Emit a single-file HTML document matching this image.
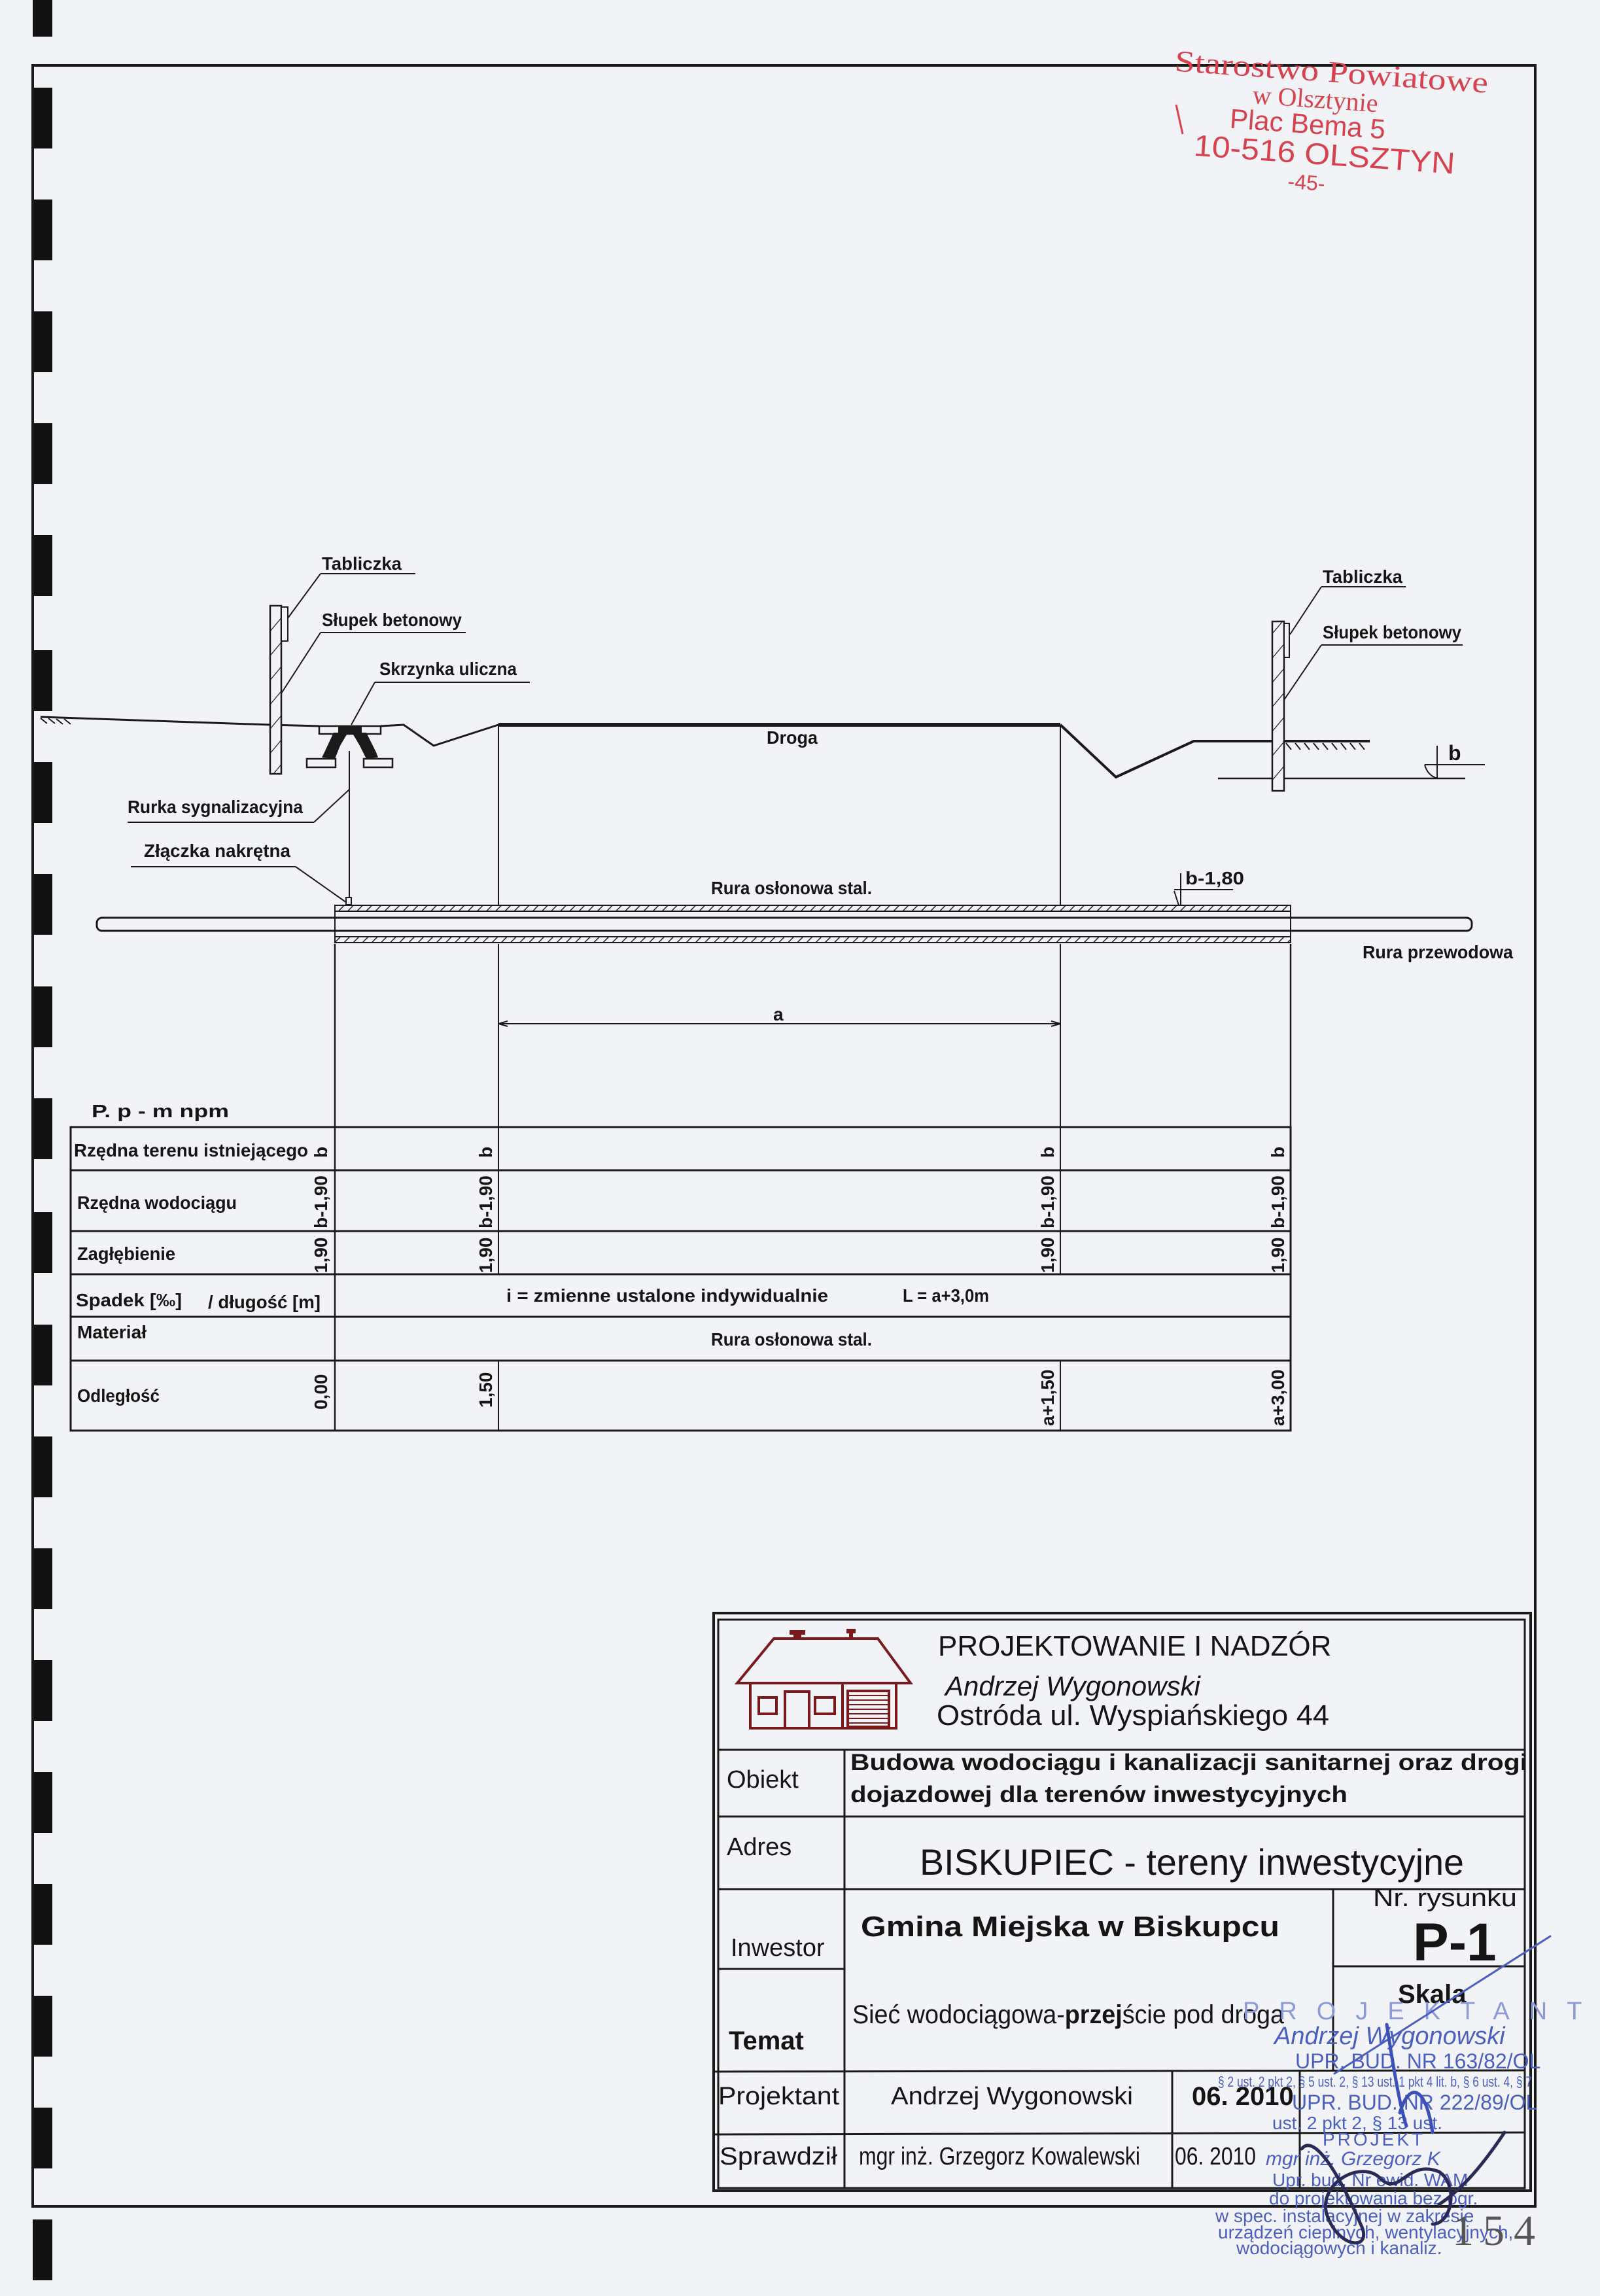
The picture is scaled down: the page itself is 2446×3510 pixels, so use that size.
<!DOCTYPE html>
<html><head><meta charset="utf-8">
<style>
html,body{margin:0;padding:0;background:#f2f3f7;}
svg{display:block;}
.n{font-family:"Liberation Sans Narrow","Liberation Sans",sans-serif;font-weight:bold;fill:#151515;}
.a{font-family:"Liberation Sans",sans-serif;fill:#151515;}
</style></head>
<body>
<svg width="2446" height="3510" viewBox="0 0 2446 3510" xmlns="http://www.w3.org/2000/svg">
<defs>
<pattern id="h" width="10" height="10" patternUnits="userSpaceOnUse" patternTransform="rotate(45)">
<rect width="10" height="10" fill="#f2f3f7"/><line x1="0" y1="0" x2="0" y2="10" stroke="#222" stroke-width="3"/>
</pattern>
<pattern id="hp" width="24" height="24" patternUnits="userSpaceOnUse" patternTransform="rotate(40)">
<rect width="24" height="24" fill="#f2f3f7"/><line x1="0" y1="0" x2="0" y2="24" stroke="#222" stroke-width="2.5"/>
</pattern>
</defs>
<rect width="2446" height="3510" fill="#f2f3f7"/>

<g fill="#111">
<rect x="50" y="0" width="30" height="56"/>
<rect x="50" y="134" width="30" height="93"/>
<rect x="50" y="305" width="30" height="93"/>
<rect x="50" y="476" width="30" height="93"/>
<rect x="50" y="647" width="30" height="93"/>
<rect x="50" y="818" width="30" height="93"/>
<rect x="50" y="994" width="30" height="93"/>
<rect x="50" y="1165" width="30" height="93"/>
<rect x="50" y="1336" width="30" height="93"/>
<rect x="50" y="1508" width="30" height="93"/>
<rect x="50" y="1679" width="30" height="93"/>
<rect x="50" y="1853" width="30" height="93"/>
<rect x="50" y="2025" width="30" height="93"/>
<rect x="50" y="2196" width="30" height="93"/>
<rect x="50" y="2367" width="30" height="93"/>
<rect x="50" y="2538" width="30" height="93"/>
<rect x="50" y="2709" width="30" height="93"/>
<rect x="50" y="2880" width="30" height="93"/>
<rect x="50" y="3051" width="30" height="93"/>
<rect x="50" y="3222" width="30" height="93"/>
<rect x="50" y="3393" width="30" height="93"/>
</g>

<rect x="50" y="100" width="2297" height="3273" fill="none" stroke="#1a1a1a" stroke-width="4"/>

<g fill="#d8414e" transform="rotate(4 2030 190)">
<text x="1790" y="125" font-family="Liberation Serif,serif" font-size="46" textLength="480" lengthAdjust="spacingAndGlyphs">Starostwo Powiatowe</text>
<text x="1912" y="166" font-family="Liberation Serif,serif" font-size="40">w Olsztynie</text>
<text x="1880" y="206" font-family="Liberation Sans,sans-serif" font-size="42">Plac Bema 5</text>
<text x="1828" y="252" font-family="Liberation Sans,sans-serif" font-size="46" textLength="400" lengthAdjust="spacingAndGlyphs">10-516 OLSZTYN</text>
<text x="1975" y="292" font-family="Liberation Sans,sans-serif" font-size="32">-45-</text>
</g>
<line x1="1798" y1="160" x2="1808" y2="205" stroke="#d8414e" stroke-width="3"/>

<g stroke="#1a1a1a" fill="none" stroke-width="3">
<polyline points="62,1096 413,1108 488,1110"/>
<polyline points="582,1110 617,1108 663,1140 762,1108"/>
<line x1="762" y1="1108" x2="1621" y2="1108" stroke-width="6"/>
<polyline points="1621,1108 1706,1188 1825,1133 2094,1133" stroke-width="4"/>
<path d="M62,1098 l10,8 M74,1098 l10,8 M86,1099 l10,8 M98,1099 l10,8" stroke-width="2"/>
<path d="M1966,1136 l8,10 M1980,1136 l8,10 M1994,1136 l8,10 M2008,1136 l8,10 M2022,1136 l8,10 M2036,1136 l8,10 M2050,1136 l8,10 M2064,1136 l8,10 M2078,1136 l8,10" stroke-width="2"/>
<line x1="534" y1="1148" x2="534" y2="1375" stroke-width="2"/>
<line x1="762" y1="1108" x2="762" y2="1383" stroke-width="2"/>
<line x1="1621" y1="1108" x2="1621" y2="1383" stroke-width="2"/>
<line x1="512" y1="1443" x2="512" y2="2187" stroke-width="2.5"/>
<line x1="762" y1="1443" x2="762" y2="1948" stroke-width="2"/>
<line x1="762" y1="2080" x2="762" y2="2187" stroke-width="2"/>
<line x1="1621" y1="1443" x2="1621" y2="1948" stroke-width="2"/>
<line x1="1621" y1="2080" x2="1621" y2="2187" stroke-width="2"/>
<line x1="1973" y1="1443" x2="1973" y2="2187" stroke-width="2.5"/>
<line x1="762" y1="1565" x2="1621" y2="1565" stroke-width="2"/>
<path d="M762,1565 l14,-4 M762,1565 l14,4 M1621,1565 l-14,-4 M1621,1565 l-14,4" stroke-width="2"/>
<line x1="1862" y1="1190" x2="2240" y2="1190" stroke-width="2.5"/>
<line x1="2178" y1="1169" x2="2270" y2="1169" stroke-width="2"/>
<line x1="2197" y1="1140" x2="2197" y2="1190" stroke-width="2"/>
<path d="M2178,1169 Q2182,1185 2197,1190" stroke-width="2"/>
<line x1="1805" y1="1335" x2="1805" y2="1385" stroke-width="2"/>
<line x1="1795" y1="1360" x2="1885" y2="1360" stroke-width="2"/>
<path d="M1795,1362 L1802,1384" stroke-width="2"/>
<line x1="490" y1="877" x2="635" y2="877" stroke-width="2"/>
<line x1="490" y1="877" x2="440" y2="945" stroke-width="2"/>
<line x1="490" y1="967" x2="712" y2="967" stroke-width="2"/>
<line x1="490" y1="967" x2="430" y2="1060" stroke-width="2"/>
<line x1="573" y1="1043" x2="810" y2="1043" stroke-width="2"/>
<line x1="573" y1="1043" x2="537" y2="1108" stroke-width="2"/>
<line x1="195" y1="1257" x2="480" y2="1257" stroke-width="2"/>
<line x1="480" y1="1257" x2="534" y2="1207" stroke-width="2"/>
<line x1="200" y1="1325" x2="452" y2="1325" stroke-width="2"/>
<line x1="452" y1="1325" x2="530" y2="1380" stroke-width="2"/>
<line x1="2020" y1="897" x2="2149" y2="897" stroke-width="2"/>
<line x1="2020" y1="897" x2="1972" y2="970" stroke-width="2"/>
<line x1="2020" y1="986" x2="2236" y2="986" stroke-width="2"/>
<line x1="2020" y1="986" x2="1963" y2="1070" stroke-width="2"/>
</g>
<rect x="413" y="926" width="17" height="257" fill="url(#hp)" stroke="#1a1a1a" stroke-width="2.5"/>
<rect x="430" y="928" width="10" height="52" fill="#f2f3f7" stroke="#1a1a1a" stroke-width="2"/>
<rect x="1945" y="950" width="18" height="259" fill="url(#hp)" stroke="#1a1a1a" stroke-width="2.5"/>
<rect x="1963" y="953" width="8" height="52" fill="#f2f3f7" stroke="#1a1a1a" stroke-width="2"/>
<g stroke="#1a1a1a" stroke-width="2.5">
<rect x="488" y="1110" width="94" height="12" fill="#f2f3f7"/>
<rect x="469" y="1160" width="44" height="13" fill="#f2f3f7"/>
<rect x="556" y="1160" width="44" height="13" fill="#f2f3f7"/>
</g>
<path d="M517,1109 L553,1109 L553,1120 L560,1120 L575,1150 L578,1158 L560,1160 L550,1140 L540,1123 L530,1123 L520,1140 L512,1160 L492,1158 L496,1150 L510,1120 L517,1120 Z" fill="#1a1a1a"/>

<rect x="512" y="1384" width="1461" height="9" fill="url(#h)" stroke="#1a1a1a" stroke-width="2"/>
<rect x="512" y="1432" width="1461" height="9" fill="url(#h)" stroke="#1a1a1a" stroke-width="2"/>
<rect x="148" y="1403" width="2102" height="20" rx="8" fill="#f2f3f7" stroke="#1a1a1a" stroke-width="3"/>
<line x1="512" y1="1384" x2="512" y2="1441" stroke="#1a1a1a" stroke-width="2"/>
<line x1="1973" y1="1384" x2="1973" y2="1441" stroke="#1a1a1a" stroke-width="2"/>
<rect x="529" y="1372" width="8" height="11" fill="#f2f3f7" stroke="#1a1a1a" stroke-width="2"/>

<g class="n" font-size="28">
<text x="492" y="871" textLength="122" lengthAdjust="spacingAndGlyphs">Tabliczka</text>
<text x="492" y="957" textLength="214" lengthAdjust="spacingAndGlyphs">Słupek betonowy</text>
<text x="580" y="1032" textLength="210" lengthAdjust="spacingAndGlyphs">Skrzynka uliczna</text>
<text x="195" y="1243" textLength="268" lengthAdjust="spacingAndGlyphs">Rurka sygnalizacyjna</text>
<text x="220" y="1310" textLength="224" lengthAdjust="spacingAndGlyphs">Złączka nakrętna</text>
<text x="2022" y="891" textLength="122" lengthAdjust="spacingAndGlyphs">Tabliczka</text>
<text x="2022" y="976" textLength="212" lengthAdjust="spacingAndGlyphs">Słupek betonowy</text>
<text x="1172" y="1137" textLength="78" lengthAdjust="spacingAndGlyphs">Droga</text>
<text x="1087" y="1367" textLength="246" lengthAdjust="spacingAndGlyphs">Rura osłonowa stal.</text>
<text x="1812" y="1352" textLength="90" lengthAdjust="spacingAndGlyphs">b-1,80</text>
<text x="2083" y="1465" textLength="230" lengthAdjust="spacingAndGlyphs">Rura przewodowa</text>
<text x="2214" y="1162" font-size="32">b</text>
<text x="1182" y="1560" font-size="28">a</text>
</g>

<g stroke="#1a1a1a" stroke-width="3" fill="none">
<rect x="108" y="1723" width="1865" height="464"/>
<line x1="108" y1="1789" x2="1973" y2="1789"/>
<line x1="108" y1="1882" x2="1973" y2="1882"/>
<line x1="108" y1="1948" x2="1973" y2="1948"/>
<line x1="108" y1="2013" x2="1973" y2="2013"/>
<line x1="108" y1="2080" x2="1973" y2="2080"/>
</g>
<g class="n" font-size="28">
<text x="140" y="1708" textLength="210" lengthAdjust="spacingAndGlyphs">P. p -        m npm</text>
<text x="113" y="1768" textLength="358" lengthAdjust="spacingAndGlyphs">Rzędna terenu istniejącego</text>
<text x="118" y="1848" textLength="244" lengthAdjust="spacingAndGlyphs">Rzędna wodociągu</text>
<text x="118" y="1926" textLength="150" lengthAdjust="spacingAndGlyphs">Zagłębienie</text>
<text x="116" y="1997" textLength="162" lengthAdjust="spacingAndGlyphs">Spadek [‰]</text>
<text x="318" y="2000" textLength="172" lengthAdjust="spacingAndGlyphs">/ długość [m]</text>
<text x="118" y="2046" textLength="106" lengthAdjust="spacingAndGlyphs">Materiał</text>
<text x="118" y="2143" textLength="126" lengthAdjust="spacingAndGlyphs">Odległość</text>
<text x="774" y="1990" textLength="492" lengthAdjust="spacingAndGlyphs">i = zmienne ustalone indywidualnie</text>
<text x="1380" y="1990" textLength="132" lengthAdjust="spacingAndGlyphs">L = a+3,0m</text>
<text x="1087" y="2057" textLength="246" lengthAdjust="spacingAndGlyphs">Rura osłonowa stal.</text>
</g>
<g class="a" font-size="28" font-weight="bold">
<text transform="translate(500,1770) rotate(-90)">b</text>
<text transform="translate(752,1770) rotate(-90)">b</text>
<text transform="translate(1611,1770) rotate(-90)">b</text>
<text transform="translate(1963,1770) rotate(-90)">b</text>
<text transform="translate(500,1878) rotate(-90)">b-1,90</text>
<text transform="translate(752,1878) rotate(-90)">b-1,90</text>
<text transform="translate(1611,1878) rotate(-90)">b-1,90</text>
<text transform="translate(1963,1878) rotate(-90)">b-1,90</text>
<text transform="translate(500,1946) rotate(-90)">1,90</text>
<text transform="translate(752,1946) rotate(-90)">1,90</text>
<text transform="translate(1611,1946) rotate(-90)">1,90</text>
<text transform="translate(1963,1946) rotate(-90)">1,90</text>
<text transform="translate(500,2155) rotate(-90)">0,00</text>
<text transform="translate(752,2152) rotate(-90)">1,50</text>
<text transform="translate(1611,2180) rotate(-90)">a+1,50</text>
<text transform="translate(1963,2180) rotate(-90)">a+3,00</text>
</g>

<g stroke="#1a1a1a" fill="none">
<rect x="1091" y="2466" width="1249" height="883" stroke-width="4"/>
<rect x="1098" y="2476" width="1233" height="869" stroke-width="3"/>
<line x1="1098" y1="2675" x2="2331" y2="2675" stroke-width="3"/>
<line x1="1098" y1="2777" x2="2331" y2="2777" stroke-width="3"/>
<line x1="1098" y1="2888" x2="2331" y2="2888" stroke-width="3"/>
<line x1="2038" y1="2888" x2="2038" y2="3165" stroke-width="3"/>
<line x1="2038" y1="3006" x2="2331" y2="3006" stroke-width="3"/>
<line x1="1098" y1="3010" x2="1291" y2="3010" stroke-width="3"/>
<line x1="1091" y1="3167" x2="2331" y2="3165" stroke-width="3"/>
<line x1="1091" y1="3263" x2="2331" y2="3260" stroke-width="3"/>
<line x1="1291" y1="2675" x2="1291" y2="3345" stroke-width="3"/>
<line x1="1792" y1="3165" x2="1792" y2="3345" stroke-width="3"/>
<line x1="1987" y1="3165" x2="1987" y2="3345" stroke-width="3"/>
</g>
<g stroke="#7a1a1c" stroke-width="4" fill="none">
<polygon points="1127,2573 1183,2505 1342,2505 1392,2573"/>
<rect x="1147" y="2573" width="223" height="69"/>
<line x1="1288" y1="2573" x2="1288" y2="2642"/>
<rect x="1200" y="2586" width="37" height="56"/>
<rect x="1160" y="2595" width="27" height="25"/>
<rect x="1246" y="2595" width="30" height="25"/>
<rect x="1296" y="2585" width="63" height="55"/>
<path d="M1298,2592 H1357 M1298,2599 H1357 M1298,2606 H1357 M1298,2613 H1357 M1298,2620 H1357 M1298,2627 H1357 M1298,2634 H1357" stroke-width="2"/>
</g>
<g fill="#7a1a1c">
<rect x="1207" y="2492" width="24" height="7"/><rect x="1213" y="2499" width="12" height="7"/>
<rect x="1294" y="2490" width="14" height="7"/><rect x="1298" y="2497" width="6" height="9"/>
</g>
<g class="a">
<text x="1434" y="2531" font-size="44">PROJEKTOWANIE  I  NADZÓR</text>
<text x="1445" y="2592" font-size="42" font-style="italic">Andrzej  Wygonowski</text>
<text x="1432" y="2637" font-size="44" textLength="600" lengthAdjust="spacingAndGlyphs">Ostróda ul. Wyspiańskiego 44</text>
<text x="1111" y="2733" font-size="38">Obiekt</text>
<text x="1300" y="2706" font-size="35" font-weight="bold" textLength="1035" lengthAdjust="spacingAndGlyphs">Budowa wodociągu i kanalizacji sanitarnej  oraz drogi</text>
<text x="1300" y="2755" font-size="35" font-weight="bold" textLength="760" lengthAdjust="spacingAndGlyphs">dojazdowej dla terenów inwestycyjnych</text>
<text x="1111" y="2836" font-size="38">Adres</text>
<text x="1406" y="2866" font-size="56" textLength="832" lengthAdjust="spacingAndGlyphs">BISKUPIEC - tereny  inwestycyjne</text>
<text x="2099" y="2914" font-size="38" textLength="220" lengthAdjust="spacingAndGlyphs">Nr. rysunku</text>
<text x="2160" y="2997" font-size="82" font-weight="bold">P-1</text>
<text x="1316" y="2960" font-size="44" font-weight="bold" textLength="640" lengthAdjust="spacingAndGlyphs">Gmina  Miejska w Biskupcu</text>
<text x="1117" y="2990" font-size="38">Inwestor</text>
<text x="2137" y="3062" font-size="40" font-weight="bold">Skala</text>
<text x="1114" y="3133" font-size="40" font-weight="bold">Temat</text>
<text x="1303" y="3093" font-size="40" textLength="660" lengthAdjust="spacingAndGlyphs">Sieć wodociągowa-<tspan font-weight="bold">przej</tspan>ście  pod droga</text>
<text x="1098" y="3217" font-size="38" textLength="185" lengthAdjust="spacingAndGlyphs">Projektant</text>
<text x="1362" y="3217" font-size="38" textLength="370" lengthAdjust="spacingAndGlyphs">Andrzej  Wygonowski</text>
<text x="1822" y="3218" font-size="40" font-weight="bold">06. 2010</text>
<text x="1100" y="3309" font-size="38" textLength="180" lengthAdjust="spacingAndGlyphs">Sprawdził</text>
<text x="1313" y="3309" font-size="38" textLength="430" lengthAdjust="spacingAndGlyphs">mgr inż. Grzegorz Kowalewski</text>
<text x="1796" y="3309" font-size="38" textLength="124" lengthAdjust="spacingAndGlyphs">06. 2010</text>
</g>
<g fill="#4a5fc0" font-family="Liberation Sans,sans-serif">
<text x="1900" y="3087" font-size="38" letter-spacing="30" fill="#8d9ad8">PROJEKTANT</text>
<text x="1948" y="3125" font-size="38" font-style="italic">Andrzej Wygonowski</text>
<text x="1980" y="3162" font-size="32">UPR. BUD. NR 163/82/OL</text>
<text x="1862" y="3190" font-size="22" textLength="480" lengthAdjust="spacingAndGlyphs">§ 2 ust. 2 pkt 2, § 5 ust. 2, § 13 ust. 1 pkt 4 lit. b, § 6 ust. 4, § 7</text>
<text x="1975" y="3225" font-size="32">UPR. BUD. NR 222/89/OL</text>
<text x="1945" y="3255" font-size="28">ust. 2 pkt 2, § 13 ust.</text>
<text x="2022" y="3280" font-size="28" letter-spacing="4">PROJEKT</text>
<text x="1935" y="3310" font-size="30" font-style="italic">mgr inż. Grzegorz K</text>
<text x="1945" y="3342" font-size="28">Upr. bud. Nr ewid. WAM</text>
<text x="1940" y="3370" font-size="28">do projektowania bez ogr.</text>
<text x="1858" y="3397" font-size="28">w spec. instalacyjnej w zakresie</text>
<text x="1862" y="3422" font-size="28">urządzeń cieplnych, wentylacyjnych,</text>
<text x="1890" y="3446" font-size="28">wodociągowych i kanaliz.</text>
</g>
<g fill="none" stroke-linecap="round">
<path d="M2040,3170 L2370,2960" stroke="#4a5fc0" stroke-width="3"/>
<path d="M2120,3095 C2130,3160 2140,3220 2150,3250 M2140,3230 C2155,3180 2180,3190 2190,3260" stroke="#3d4fb8" stroke-width="5"/>
<path d="M1990,3285 C2010,3260 2050,3330 2080,3400 C2100,3440 2050,3440 2030,3390 C2010,3340 2080,3300 2110,3330 C2140,3360 2150,3300 2200,3320 C2230,3340 2220,3400 2190,3400 M2200,3370 C2230,3350 2260,3320 2300,3260" stroke="#2a2a55" stroke-width="5"/>
</g>
<text x="2220" y="3432" font-family="Liberation Serif,serif" font-size="66" fill="#555" letter-spacing="14">154</text>
</svg>
</body></html>
